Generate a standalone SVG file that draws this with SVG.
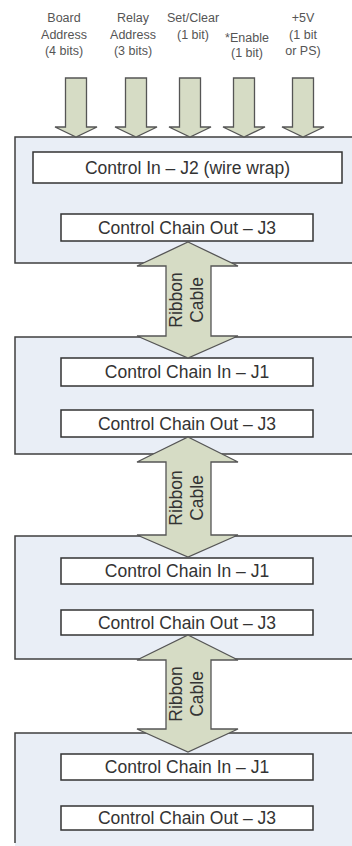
<svg xmlns="http://www.w3.org/2000/svg" width="352" height="846" viewBox="0 0 352 846">
  <style>
    .panel { fill: #e9eef6; stroke: #3f3f3f; stroke-width: 1.5; }
    .box { fill: #ffffff; stroke: #333333; stroke-width: 1.5; }
    .arrow { fill: #d6dcc5; stroke: #555555; stroke-width: 1.3; stroke-linejoin: miter; }
    .boxtext { font-family: "Liberation Sans", Arial, sans-serif; font-size: 17.5px; fill: #333333; text-anchor: middle; }
    .label { font-family: "Liberation Sans", Arial, sans-serif; font-size: 12.5px; fill: #555555; text-anchor: middle; }
    .cable { font-family: "Liberation Sans", Arial, sans-serif; font-size: 17.5px; fill: #333333; text-anchor: middle; }
  </style>
  <rect width="352" height="846" fill="#ffffff"/>

  <!-- Input signal labels -->
  <g id="labels">
    <text class="label"><tspan x="64" y="22">Board</tspan><tspan x="64" y="38.5">Address</tspan><tspan x="64" y="55">(4 bits)</tspan></text>
    <text class="label"><tspan x="133" y="22">Relay</tspan><tspan x="133" y="38.5">Address</tspan><tspan x="133" y="55">(3 bits)</tspan></text>
    <text class="label"><tspan x="193" y="22">Set/Clear</tspan><tspan x="193" y="38.5">(1 bit)</tspan></text>
    <text class="label"><tspan x="247" y="42">*Enable</tspan><tspan x="247" y="57">(1 bit)</tspan></text>
    <text class="label"><tspan x="303" y="22">+5V</tspan><tspan x="303" y="38.5">(1 bit</tspan><tspan x="303" y="55">or PS)</tspan></text>
  </g>

  <!-- Board 1 -->
  <g id="board1">
    <rect class="panel" x="15" y="137" width="345" height="126"/>
    <g id="j2-in">
      <rect class="box" x="33" y="152" width="309" height="31"/>
      <text class="boxtext" x="187.5" y="173.8">Control In – J2 (wire wrap)</text>
    </g>
    <g id="b1-out">
      <rect class="box" x="61" y="214" width="252" height="27"/>
      <text class="boxtext" x="187" y="233.8">Control Chain Out – J3</text>
    </g>
  </g>

  <!-- Board 2 -->
  <g id="board2">
    <rect class="panel" x="15" y="337" width="345" height="117"/>
    <g id="b2-in">
      <rect class="box" x="61" y="358" width="252" height="28"/>
      <text class="boxtext" x="187" y="378.3">Control Chain In – J1</text>
    </g>
    <g id="b2-out">
      <rect class="box" x="61" y="410" width="252" height="27"/>
      <text class="boxtext" x="187" y="429.8">Control Chain Out – J3</text>
    </g>
  </g>

  <!-- Board 3 -->
  <g id="board3">
    <rect class="panel" x="15" y="536" width="345" height="123"/>
    <g id="b3-in">
      <rect class="box" x="61" y="558" width="252" height="26"/>
      <text class="boxtext" x="187" y="577.3">Control Chain In – J1</text>
    </g>
    <g id="b3-out">
      <rect class="box" x="61" y="610" width="252" height="25"/>
      <text class="boxtext" x="187" y="628.8">Control Chain Out – J3</text>
    </g>
  </g>

  <!-- Board 4 (continues below the page edge) -->
  <g id="board4">
    <path d="M15,846 V733 H360 V846 Z" fill="#e9eef6"/>
    <path d="M15,843 V733 H360" fill="none" stroke="#3f3f3f" stroke-width="1.5"/>
    <g id="b4-in">
      <rect class="box" x="61" y="754" width="252" height="26"/>
      <text class="boxtext" x="187" y="773.3">Control Chain In – J1</text>
    </g>
    <g id="b4-out">
      <rect class="box" x="61" y="806" width="252" height="24"/>
      <text class="boxtext" x="187" y="824.3">Control Chain Out – J3</text>
    </g>
  </g>

  <!-- Connectors: input arrows and ribbon cables -->
  <g id="connectors">
    <path class="arrow" d="M65.5,78 H86.5 V127 H97 L76,137 L55,127 H65.5 Z"/>
    <path class="arrow" d="M125.5,78 H146.5 V127 H157 L136,137 L115,127 H125.5 Z"/>
    <path class="arrow" d="M179.5,78 H200.5 V127 H211 L190,137 L169,127 H179.5 Z"/>
    <path class="arrow" d="M233.5,78 H254.5 V127 H265 L244,137 L223,127 H233.5 Z"/>
    <path class="arrow" d="M292.5,78 H313.5 V127 H324 L303,137 L282,127 H292.5 Z"/>

    <g id="ribbon1">
      <path class="arrow" d="M188,242 L238,266 H211 V336 H238 L188,358 L137,336 H166 V266 H137 Z"/>
      <text class="cable" transform="translate(182,300) rotate(-90)">Ribbon</text>
      <text class="cable" transform="translate(203,300) rotate(-90)">Cable</text>
    </g>
    <g id="ribbon2">
      <path class="arrow" d="M188,437 L238,462 H211 V535 H238 L188,557 L137,535 H166 V462 H137 Z"/>
      <text class="cable" transform="translate(182,498) rotate(-90)">Ribbon</text>
      <text class="cable" transform="translate(203,498) rotate(-90)">Cable</text>
    </g>
    <g id="ribbon3">
      <path class="arrow" d="M188,635 L238,660 H211 V729 H238 L188,752 L137,729 H166 V660 H137 Z"/>
      <text class="cable" transform="translate(182,694) rotate(-90)">Ribbon</text>
      <text class="cable" transform="translate(203,694) rotate(-90)">Cable</text>
    </g>
  </g>
</svg>
